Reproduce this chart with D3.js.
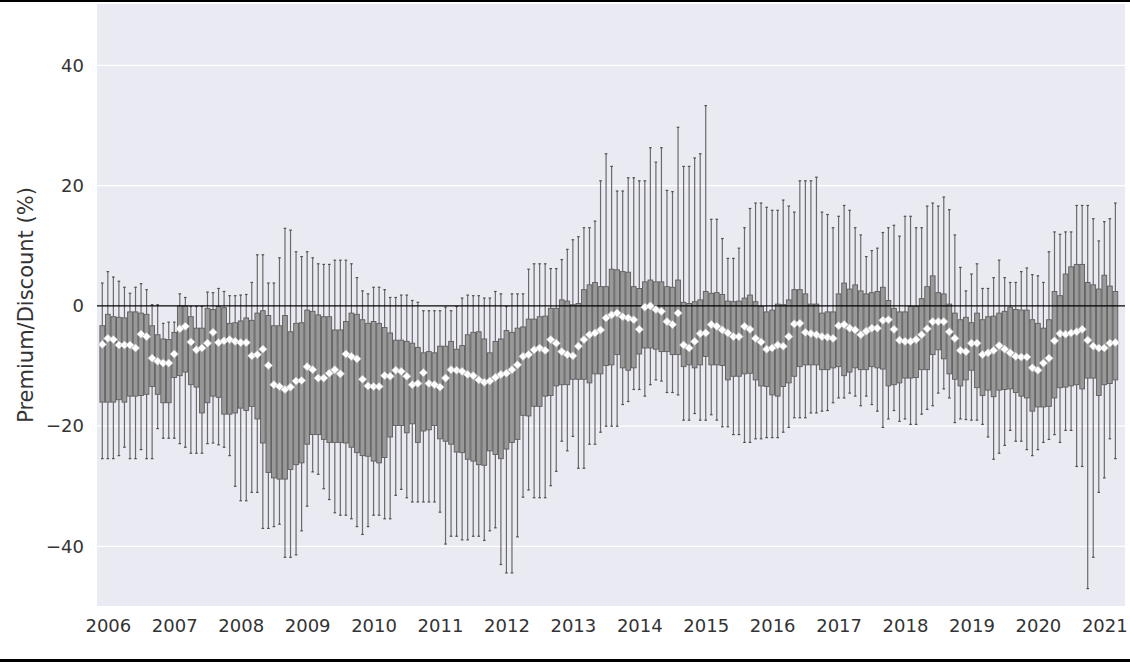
<!DOCTYPE html>
<html>
<head>
<meta charset="utf-8">
<script src="https://cdn.jsdelivr.net/npm/d3@7"></script>
<style>
  html, body { margin: 0; padding: 0; background: #ffffff; }
  svg { display: block; }
  text { font-family: "DejaVu Sans", sans-serif; }
</style>
</head>
<body>
<svg id="chart" width="1130" height="662"></svg>
<script>
// ---- Data (monthly distributions, Dec 2005 .. Mar 2021) ----
const startYear = 2005, startMonth = 12, monthCount = 184;
const months = [];
for (let k = 0; k < monthCount; k++) {
  const m = (startMonth - 1 + k) % 12 + 1;
  const y = startYear + Math.floor((startMonth - 1 + k) / 12);
  months.push(y + "-" + String(m).padStart(2, "0"));
}
const yearTicks = ["2006","2007","2008","2009","2010","2011","2012","2013","2014","2015","2016","2017","2018","2019","2020","2021"];
const yTicks = [-40, -20, 0, 20, 40];

const whiskerHigh = [
3.8,5.7,4.8,4.1,3.1,2.1,3.1,3.7,2.7,0.2,
0.2,-2.9,-2.7,-2.7,2.0,1.4,-0.1,-0.1,-0.1,2.3,
2.2,2.9,2.4,1.7,1.7,1.8,1.9,3.9,8.5,8.5,
3.8,3.8,8.0,12.9,12.6,9.0,8.2,9.0,8.0,7.0,
6.9,6.9,7.6,7.6,7.6,7.0,4.7,2.5,2.0,3.1,
3.1,2.7,1.4,1.4,1.8,1.8,0.9,0.6,-0.8,-0.8,
-0.8,-0.8,-0.2,-0.8,-0.1,1.3,1.8,1.7,1.7,1.3,
1.3,2.4,2.0,-0.1,2.0,2.0,2.0,6.1,7.0,7.0,
7.0,6.2,6.2,7.7,9.4,11.0,11.5,13.0,13.0,14.1,
20.8,25.3,23.2,19.1,19.1,21.3,21.3,20.8,20.8,26.3,
23.9,26.3,19.2,19.0,29.7,23.2,23.2,24.6,25.3,33.3,
14.4,14.4,11.2,7.9,7.9,9.6,13.0,16.2,17.1,17.1,
16.4,15.9,15.9,17.6,16.6,15.6,20.8,20.8,20.8,21.4,
15.6,15.2,13.0,14.9,16.7,15.9,13.0,11.8,8.2,9.2,
9.6,12.2,13.0,13.4,11.6,14.9,14.9,13.0,13.0,16.6,
17.1,16.6,18.1,16.0,11.8,6.4,2.5,5.3,7.0,2.9,
2.9,4.7,7.6,4.7,3.9,3.9,5.7,6.3,5.2,5.0,
3.9,9.0,12.3,11.9,12.3,12.3,16.7,16.7,16.7,14.5,
10.8,14.0,14.5,17.1
];
const boxQ3 = [
-3.3,-1.4,-1.8,-1.9,-2.0,-1.0,-1.0,-1.2,-1.4,-3.3,
-4.8,-5.5,-5.6,-4.4,0.0,0.0,-1.8,-3.7,-3.7,-0.4,
-0.6,-0.1,-0.3,-2.9,-2.8,-2.5,-2.0,-2.4,-1.2,-0.8,
-1.6,-3.3,-3.3,-1.6,-4.3,-2.9,-2.8,-0.7,-0.9,-1.5,
-1.8,-1.8,-4.0,-4.0,-2.6,-1.2,-1.4,-2.3,-2.9,-2.6,
-2.9,-3.6,-4.5,-5.7,-5.7,-5.9,-6.2,-6.9,-7.8,-7.6,
-7.8,-6.7,-6.7,-5.9,-7.2,-6.6,-4.8,-4.4,-4.3,-5.5,
-7.8,-5.9,-5.5,-4.1,-4.4,-3.7,-3.5,-2.2,-2.2,-1.8,
-1.7,-0.4,-0.4,1.0,0.8,0.2,0.4,2.7,3.5,3.9,
3.2,3.2,6.1,6.0,5.7,5.6,3.2,2.9,4.0,4.3,
4.0,4.0,3.2,3.1,4.3,0.6,0.4,0.7,1.0,2.4,
2.1,2.2,1.9,0.8,0.7,0.8,1.3,1.8,0.7,-0.1,
-1.0,-0.7,0.3,0.2,1.0,2.7,2.7,2.0,0.3,0.3,
-1.2,-1.0,-1.0,2.0,3.8,2.8,3.5,2.5,2.0,2.2,
2.4,3.1,0.9,-0.4,-1.0,-1.0,-0.1,-0.1,1.2,3.2,
5.0,2.2,2.0,0.3,-1.2,-2.3,-1.9,-2.8,-1.2,-2.3,
-1.8,-1.7,-1.2,-0.9,-0.2,-0.6,-0.7,-0.7,-2.3,-2.9,
-3.7,-2.3,2.4,1.7,5.3,6.5,6.9,6.9,3.9,3.5,
2.8,5.1,3.3,2.4
];
const boxQ1 = [
-16.0,-16.0,-16.0,-15.6,-16.0,-15.0,-15.0,-14.9,-14.7,-13.4,
-14.7,-16.1,-16.1,-11.9,-11.6,-11.0,-13.1,-13.5,-17.8,-16.1,
-15.0,-15.2,-18.0,-18.0,-17.8,-17.0,-17.4,-16.7,-18.8,-22.8,
-27.7,-28.6,-28.8,-28.8,-27.2,-26.4,-26.1,-23.0,-21.4,-21.4,
-22.2,-22.7,-22.7,-22.7,-22.8,-23.5,-24.4,-24.9,-25.0,-25.8,
-26.1,-25.2,-21.8,-19.9,-19.9,-21.1,-19.6,-22.7,-20.8,-20.6,
-19.9,-22.1,-22.5,-23.0,-24.3,-24.4,-25.5,-25.8,-26.4,-26.5,
-24.1,-24.7,-25.4,-23.8,-22.7,-22.2,-18.2,-18.3,-16.7,-16.7,
-15.0,-14.9,-13.3,-13.1,-13.1,-12.2,-12.2,-12.2,-12.8,-11.3,
-11.3,-9.9,-9.8,-8.1,-10.3,-10.7,-10.3,-8.0,-7.0,-7.0,
-7.2,-7.6,-7.6,-8.1,-8.1,-10.1,-9.8,-10.3,-9.8,-8.4,
-9.8,-9.8,-9.9,-12.3,-11.7,-11.7,-11.3,-11.2,-12.3,-13.3,
-13.4,-14.8,-15.0,-13.4,-12.8,-11.7,-10.1,-9.8,-9.8,-9.8,
-10.6,-10.6,-10.3,-10.1,-11.6,-11.0,-10.3,-10.6,-10.6,-10.1,
-10.3,-10.5,-13.3,-13.1,-12.8,-12.0,-12.0,-11.9,-10.6,-10.6,
-8.1,-7.3,-8.8,-11.3,-12.2,-13.3,-12.3,-10.7,-13.6,-14.9,
-14.0,-15.1,-14.0,-13.9,-13.8,-14.4,-15.0,-15.3,-17.5,-16.8,
-16.8,-16.7,-15.3,-13.6,-13.5,-13.3,-13.1,-13.8,-12.0,-12.0,
-14.9,-13.1,-12.9,-12.3
];
const whiskerLow = [
-25.4,-25.4,-25.4,-24.9,-23.5,-25.4,-25.4,-23.9,-25.4,-25.4,
-20.4,-22.0,-22.0,-22.0,-22.9,-23.5,-24.5,-24.5,-24.5,-22.9,
-22.8,-23.1,-23.5,-24.9,-30.0,-32.4,-32.4,-31.0,-31.0,-37.0,
-37.0,-36.7,-36.3,-41.8,-41.8,-41.4,-37.4,-33.3,-27.6,-28.0,
-30.4,-32.2,-34.4,-34.8,-34.8,-35.4,-36.7,-38.0,-36.7,-34.8,
-34.8,-35.4,-35.4,-31.5,-30.5,-31.9,-32.6,-32.6,-32.6,-32.6,
-32.6,-34.3,-39.6,-38.3,-38.3,-38.9,-38.9,-38.3,-38.3,-39.0,
-37.4,-36.9,-43.0,-44.4,-44.4,-38.4,-31.8,-30.6,-31.9,-31.9,
-31.9,-29.9,-27.5,-22.5,-24.1,-21.7,-27.0,-27.0,-23.0,-23.0,
-21.0,-20.0,-20.0,-20.0,-16.4,-15.9,-13.9,-13.9,-15.0,-13.1,
-12.3,-12.5,-14.4,-14.4,-14.8,-19.0,-19.0,-17.9,-19.0,-19.0,
-18.1,-19.0,-20.1,-20.1,-21.4,-21.4,-22.7,-22.7,-22.1,-22.1,
-21.9,-21.9,-21.9,-21.0,-20.2,-18.6,-18.6,-18.6,-17.8,-17.8,
-17.5,-17.4,-16.1,-15.3,-15.3,-14.5,-15.0,-16.6,-15.0,-16.4,
-17.5,-20.2,-18.8,-17.4,-19.2,-18.8,-19.7,-19.7,-18.0,-17.2,
-16.6,-14.5,-13.8,-15.3,-19.4,-18.8,-18.9,-19.0,-19.0,-19.7,
-21.8,-25.5,-24.5,-23.2,-20.7,-22.5,-22.5,-23.9,-24.9,-23.9,
-22.7,-22.2,-21.4,-22.7,-20.7,-20.7,-26.7,-26.7,-47.0,-41.8,
-31.0,-28.6,-22.1,-25.4
];
const meanValue = [
-6.4,-5.4,-5.6,-6.5,-6.5,-6.5,-7.0,-4.7,-5.1,-8.7,
-9.2,-9.5,-9.5,-8.0,-3.8,-3.4,-6.0,-7.3,-7.0,-6.2,
-4.4,-6.1,-5.8,-5.6,-5.9,-6.1,-6.1,-8.3,-8.1,-7.2,
-9.9,-13.1,-13.4,-13.9,-13.5,-12.5,-12.4,-10.1,-10.6,-12.0,
-12.0,-11.2,-10.6,-11.3,-8.0,-8.4,-8.8,-12.2,-13.3,-13.4,
-13.4,-11.6,-11.7,-10.7,-10.9,-11.7,-13.1,-12.9,-11.1,-12.9,
-13.1,-13.5,-12.0,-10.6,-10.7,-10.9,-11.4,-11.6,-12.3,-12.7,
-12.5,-11.9,-11.4,-11.2,-10.6,-9.8,-8.4,-8.1,-7.3,-7.0,
-7.4,-5.6,-6.2,-7.6,-8.1,-8.3,-6.7,-5.6,-4.8,-4.5,
-4.0,-2.0,-1.5,-1.2,-1.8,-2.0,-2.3,-3.9,-0.2,0.0,
-0.6,-0.9,-2.6,-3.1,-1.2,-6.5,-7.0,-5.9,-4.6,-4.5,
-3.1,-3.4,-4.0,-4.5,-5.1,-5.1,-3.4,-3.9,-5.4,-6.0,
-7.2,-7.0,-6.5,-6.7,-5.1,-3.0,-2.9,-4.4,-4.6,-4.8,
-5.1,-5.2,-5.4,-3.3,-3.1,-3.7,-4.0,-4.8,-4.2,-3.7,
-3.7,-2.4,-2.3,-3.9,-5.7,-5.9,-5.9,-5.6,-4.8,-3.8,
-2.6,-2.6,-2.6,-4.3,-5.4,-7.4,-7.6,-6.2,-6.2,-8.1,
-7.8,-7.4,-6.6,-7.2,-7.8,-8.4,-8.5,-8.5,-10.3,-10.7,
-9.5,-8.7,-5.8,-4.6,-4.7,-4.5,-4.3,-3.9,-5.7,-6.7,
-7.0,-7.0,-6.2,-6.1
];

const rows = months.map((m, i) => ({
  month: m, hi: whiskerHigh[i], q3: boxQ3[i], q1: boxQ1[i], lo: whiskerLow[i], mean: meanValue[i]
}));

// ---- Layout ----
const W = 1130, H = 662;
const plot = { left: 97, right: 1125, top: 4, bottom: 606 };
const svg = d3.select("#chart");

svg.append("rect").attr("x", 0).attr("y", 0).attr("width", W).attr("height", H).attr("fill", "#ffffff");
svg.append("rect").attr("x", 0).attr("y", 0).attr("width", W).attr("height", 2).attr("fill", "#000");
svg.append("rect").attr("x", 0).attr("y", 659).attr("width", W).attr("height", 3).attr("fill", "#000");

const step = 5.536;
const x = d3.scalePoint().domain(months).range([102.3, 102.3 + step * (monthCount - 1)]);
const y = d3.scaleLinear().domain([-49.9, 50.2]).range([plot.bottom, plot.top]);

svg.append("rect")
  .attr("x", plot.left).attr("y", plot.top)
  .attr("width", plot.right - plot.left).attr("height", plot.bottom - plot.top)
  .attr("fill", "#EAEAF2");

// grid
svg.append("g").selectAll("line").data(yTicks).join("line")
  .attr("x1", plot.left).attr("x2", plot.right)
  .attr("y1", d => y(d)).attr("y2", d => y(d))
  .attr("stroke", "#ffffff").attr("stroke-width", 1.3);

const boxW = step * 0.86;
const capW = boxW * 0.55;
const g = svg.append("g");

// whiskers
g.selectAll("line.wl").data(rows).join("line").attr("class", "wl")
  .attr("x1", d => x(d.month)).attr("x2", d => x(d.month))
  .attr("y1", d => y(d.lo)).attr("y2", d => y(d.q1))
  .attr("stroke", "#6a6a6a").attr("stroke-width", 1.2);
g.selectAll("line.wh").data(rows).join("line").attr("class", "wh")
  .attr("x1", d => x(d.month)).attr("x2", d => x(d.month))
  .attr("y1", d => y(d.q3)).attr("y2", d => y(d.hi))
  .attr("stroke", "#6a6a6a").attr("stroke-width", 1.2);
// caps
g.selectAll("line.cl").data(rows).join("line").attr("class", "cl")
  .attr("x1", d => x(d.month) - capW / 2).attr("x2", d => x(d.month) + capW / 2)
  .attr("y1", d => y(d.lo)).attr("y2", d => y(d.lo))
  .attr("stroke", "#505050").attr("stroke-width", 1.2);
g.selectAll("line.ch").data(rows).join("line").attr("class", "ch")
  .attr("x1", d => x(d.month) - capW / 2).attr("x2", d => x(d.month) + capW / 2)
  .attr("y1", d => y(d.hi)).attr("y2", d => y(d.hi))
  .attr("stroke", "#505050").attr("stroke-width", 1.2);
// boxes
g.selectAll("rect.box").data(rows).join("rect").attr("class", "box")
  .attr("x", d => x(d.month) - boxW / 2).attr("width", boxW)
  .attr("y", d => y(d.q3)).attr("height", d => y(d.q1) - y(d.q3))
  .attr("fill", "#999999").attr("stroke", "#5c5c5c").attr("stroke-width", 0.9);

// zero line
svg.append("line")
  .attr("x1", plot.left).attr("x2", plot.right)
  .attr("y1", y(0)).attr("y2", y(0))
  .attr("stroke", "#000").attr("stroke-width", 1.2);

// mean diamonds
const r = 4.1;
svg.append("g").selectAll("path").data(rows).join("path")
  .attr("d", `M0,${-r}L${r},0L0,${r}L${-r},0Z`)
  .attr("transform", d => `translate(${x(d.month)},${y(d.mean)})`)
  .attr("fill", "#ffffff").attr("stroke", "#c4c4c4").attr("stroke-width", 0.7);

// axes
const yearMonth = months.filter(m => m.endsWith("-01"));
const xAxis = d3.axisBottom(x).tickValues(yearMonth).tickFormat((m, i) => yearTicks[i]).tickSize(0).tickPadding(0);
const xa = svg.append("g").attr("transform", `translate(0,${plot.bottom})`).call(xAxis);
xa.select(".domain").remove();
xa.selectAll("text").attr("y", 13).attr("dy", "0.71em")
  .attr("font-size", 18).attr("fill", "#333").attr("font-family", "DejaVu Sans");

const yAxis = d3.axisLeft(y).tickValues(yTicks).tickSize(0).tickPadding(0);
const ya = svg.append("g").attr("transform", `translate(${plot.left},0)`).call(yAxis);
ya.select(".domain").remove();
ya.selectAll("text").attr("x", -13)
  .attr("font-size", 18).attr("fill", "#333").attr("font-family", "DejaVu Sans");

svg.append("text")
  .attr("transform", `translate(33,${(plot.top + plot.bottom) / 2}) rotate(-90)`)
  .attr("text-anchor", "middle")
  .attr("font-size", 21).attr("fill", "#333")
  .text("Premium/Discount (%)");
</script>
</body>
</html>
